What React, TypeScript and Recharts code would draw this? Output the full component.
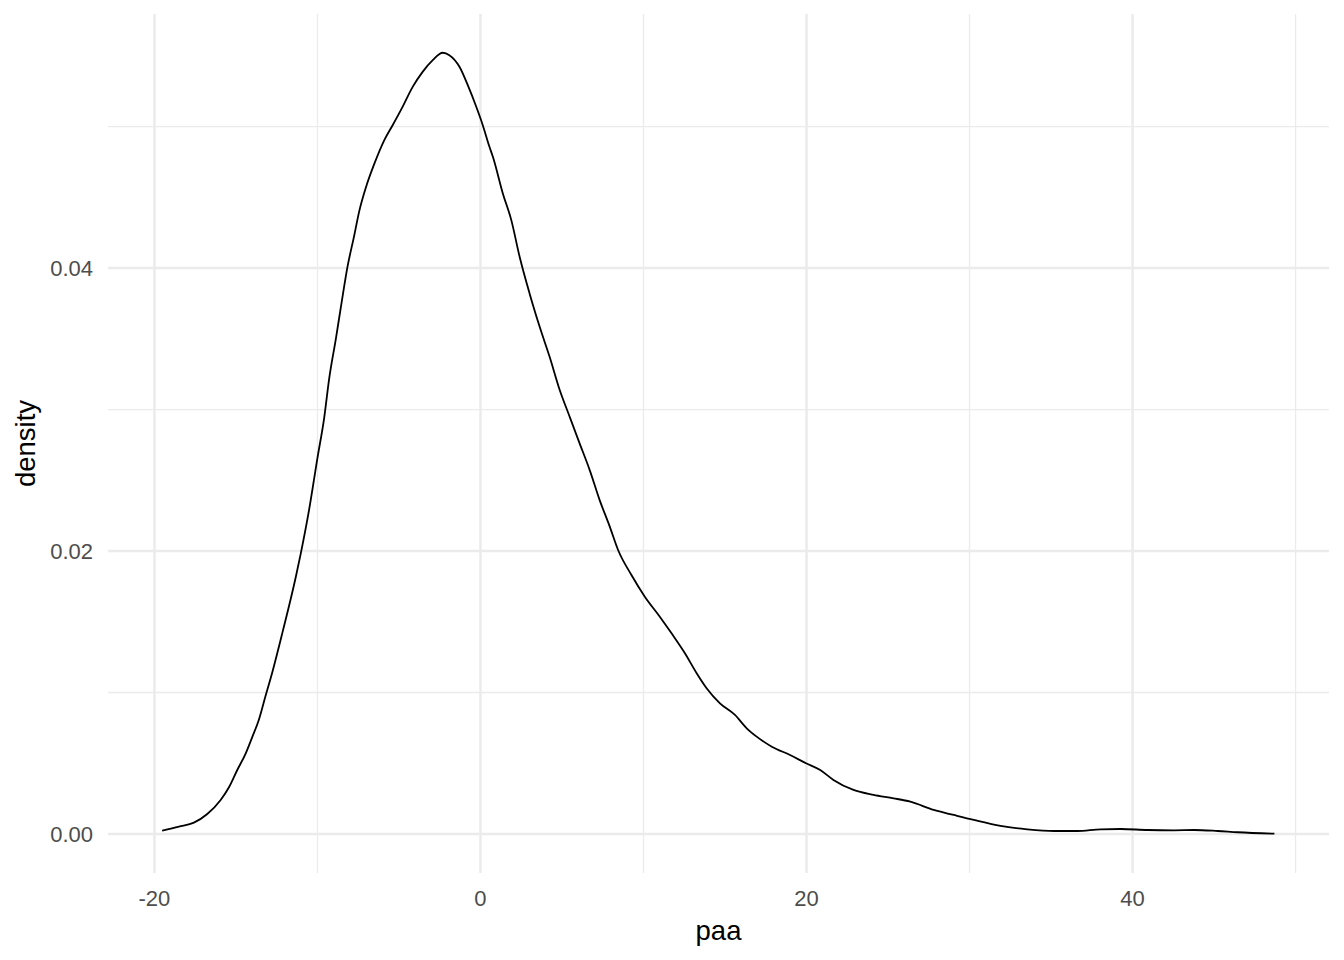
import { LineChart, Line, XAxis, YAxis, ReferenceLine } from 'recharts';

// density curve of paa
const paaX = [
  -19.53, -18.5, -17.58, -16.76, -15.94, -15.43, -14.92, -14.4, -13.99, -13.6,
  -13.2, -12.77, -12.15, -11.33, -11.02, -10.51, -10.0, -9.59, -9.28, -8.87,
  -8.56, -8.16, -7.74, -7.44, -7.03, -6.51, -5.9, -5.39, -4.78, -4.16,
  -3.55, -2.93, -2.32, -1.91, -1.29, -0.78, -0.26, 0.14, 0.55, 0.76,
  1.37, 1.89, 2.4, 3.01, 3.63, 4.24, 4.86, 5.47, 6.08, 6.7,
  7.31, 7.93, 8.44, 9.26, 10.08, 11.0, 11.72, 12.54, 13.26, 13.87,
  14.69, 15.61, 16.33, 16.94, 17.87, 18.99, 19.97, 20.84, 21.65, 22.88,
  24.11, 25.34, 26.37, 27.8, 29.03, 30.26, 31.9, 33.54, 35.18, 36.61,
  38.05, 39.27, 40.92, 42.55, 43.78, 45.22, 46.45, 48.7,
];

const densityY = [
  0.00023, 0.00052, 0.0008, 0.00141, 0.0024, 0.0033, 0.00452, 0.0057, 0.00688, 0.00806,
  0.0097, 0.01143, 0.01423, 0.01816, 0.01985, 0.02294, 0.02659, 0.0294, 0.03221, 0.03502,
  0.03727, 0.04008, 0.04233, 0.04401, 0.0457, 0.04738, 0.04905, 0.0501, 0.0514, 0.05281,
  0.05387, 0.0547, 0.05522, 0.05505, 0.05423, 0.05293, 0.0514, 0.0501, 0.04857, 0.04787,
  0.04528, 0.04339, 0.0408, 0.03821, 0.03585, 0.03373, 0.03138, 0.02949, 0.02761, 0.02572,
  0.0236, 0.02172, 0.02007, 0.0183, 0.01677, 0.01536, 0.01418, 0.01277, 0.01136, 0.0103,
  0.00923, 0.00841, 0.00747, 0.00688, 0.00617, 0.00558, 0.005, 0.00452, 0.00382, 0.00311,
  0.00276, 0.00252, 0.00228, 0.0017, 0.00134, 0.00099, 0.00057, 0.00033, 0.00021, 0.00021,
  0.00033, 0.00035, 0.00028, 0.00026, 0.00028, 0.00021, 0.00012, 0.00002,
];

const xMajor = [-20, 0, 20, 40];
const xMinor = [-10, 10, 30, 50];
const yMajor = [0, 0.02, 0.04];
const yMinor = [0.01, 0.03, 0.05];

const data = paaX.map((x, i) => ({ x, y: densityY[i] }));

const gridColor = '#EBEBEB';
const tickStyle = { fontSize: 22, fill: '#4D4D4D' };

const App = () => {
  return (
    <div
      style={{
        position: 'absolute',
        left: 0,
        top: 0,
        background: '#fff',
        fontFamily: '"Liberation Sans", Arial, sans-serif',
      }}
    >
      <LineChart width={1344} height={960} data={data} margin={{ top: 14, right: 15, left: 0, bottom: 0 }}>
        <XAxis
          type="number"
          dataKey="x"
          domain={[-22.85, 52.05]}
          allowDataOverflow
          ticks={xMajor}
          axisLine={false}
          tickLine={false}
          tickSize={0}
          tickMargin={17}
          height={87}
          tick={tickStyle}
          label={{ value: 'paa', position: 'insideBottom', offset: 20, fill: '#000', fontSize: 27.5 }}
        />
        <YAxis
          type="number"
          domain={[-0.00276, 0.05796]}
          allowDataOverflow
          ticks={yMajor}
          tickFormatter={(v: number) => v.toFixed(2)}
          axisLine={false}
          tickLine={false}
          tickSize={0}
          tickMargin={15}
          width={108}
          tick={tickStyle}
          label={{
            value: 'density',
            angle: -90,
            position: 'insideLeft',
            offset: 25,
            fill: '#000',
            fontSize: 27.5,
            style: { textAnchor: 'middle' },
          }}
        />
        {xMinor.map(v => (
          <ReferenceLine key={`xm${v}`} x={v} stroke={gridColor} strokeWidth={1.3} />
        ))}
        {yMinor.map(v => (
          <ReferenceLine key={`ym${v}`} y={v} stroke={gridColor} strokeWidth={1.3} />
        ))}
        {xMajor.map(v => (
          <ReferenceLine key={`xM${v}`} x={v} stroke={gridColor} strokeWidth={2.5} />
        ))}
        {yMajor.map(v => (
          <ReferenceLine key={`yM${v}`} y={v} stroke={gridColor} strokeWidth={2.5} />
        ))}
        <Line
          type="monotone"
          dataKey="y"
          stroke="#000"
          strokeWidth={1.8}
          dot={false}
          isAnimationActive={false}
        />
      </LineChart>
    </div>
  );
};

export default App;
